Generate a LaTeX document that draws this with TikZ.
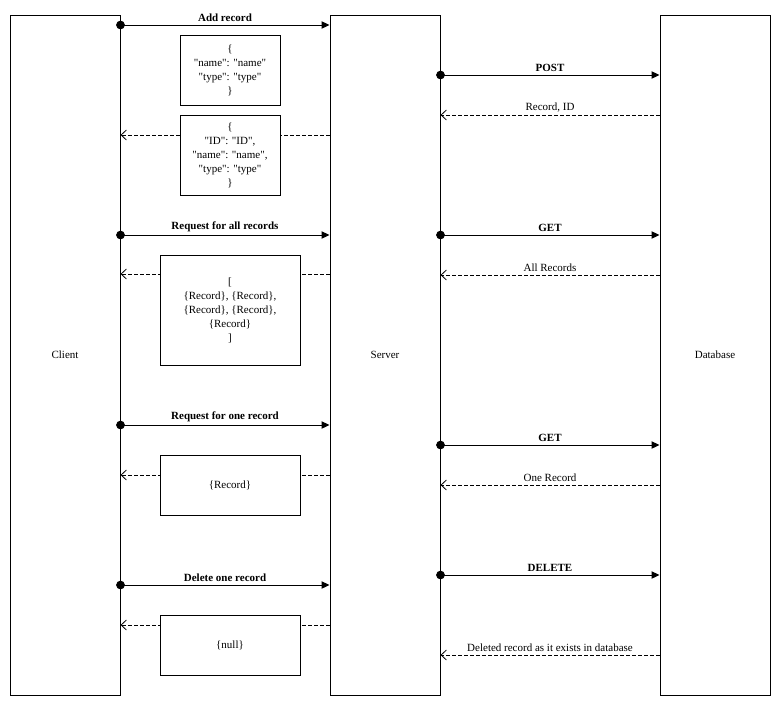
\documentclass[tikz,border=0pt]{standalone}
\usepackage{fontspec}
% plain straight quotes in the JSON payloads
\setmainfont{Liberation Serif}[Ligatures=TeXOff]
\usetikzlibrary{arrows.meta}

\begin{document}
\begin{tikzpicture}[x=0.75pt,y=-0.75pt,
  font=\fontsize{8.25pt}{10.5pt}\selectfont,
  lane/.style={draw, line width=0.75pt, minimum width=82.5pt, minimum height=510pt, inner sep=0pt},
  msgbox/.style={draw, fill=white, line width=0.75pt, align=center, inner sep=0pt},
  call/.style={line width=0.75pt, shorten <=-3.25pt, {Circle[length=6.5pt]}-{Triangle[length=6pt,width=5.5pt]}},
  reply/.style={line width=0.6pt, dash pattern=on 2.5pt off 2pt, -{Straight Barb[length=4pt,width=7.5pt]}},
  calltext/.style={above, inner sep=2pt, font=\fontsize{8.25pt}{10pt}\selectfont\bfseries},
  replytext/.style={above, inner sep=2pt}]
\useasboundingbox (0,0) rectangle (781,707);

% lifelines
\node[lane] (client) at (65,355) {Client};
\node[lane] (server) at (385,355) {Server};
\node[lane] (db) at (715,355) {Database};

% client <-> server
\draw[call] (client.east |- 0,25) -- node[calltext] {Add record} (server.west |- 0,25);
\draw[reply] (server.west |- 0,135) -- (client.east |- 0,135);
\draw[call] (client.east |- 0,235) -- node[calltext] {Request for all records} (server.west |- 0,235);
\draw[reply] (server.west |- 0,274) -- (client.east |- 0,274);
\draw[call] (client.east |- 0,425) -- node[calltext] {Request for one record} (server.west |- 0,425);
\draw[reply] (server.west |- 0,475) -- (client.east |- 0,475);
\draw[call] (client.east |- 0,585) -- node[calltext] {Delete one record} (server.west |- 0,585);
\draw[reply] (server.west |- 0,625) -- (client.east |- 0,625);

% server <-> database
\draw[call] (server.east |- 0,75) -- node[calltext] {POST} (db.west |- 0,75);
\draw[reply] (db.west |- 0,115) -- node[replytext] {Record, ID} (server.east |- 0,115);
\draw[call] (server.east |- 0,235) -- node[calltext] {GET} (db.west |- 0,235);
\draw[reply] (db.west |- 0,275) -- node[replytext] {All Records} (server.east |- 0,275);
\draw[call] (server.east |- 0,445) -- node[calltext] {GET} (db.west |- 0,445);
\draw[reply] (db.west |- 0,485) -- node[replytext] {One Record} (server.east |- 0,485);
\draw[call] (server.east |- 0,575) -- node[calltext] {DELETE} (db.west |- 0,575);
\draw[reply] (db.west |- 0,655) -- node[replytext] {Deleted record as it exists in database} (server.east |- 0,655);

% payload boxes
\node[msgbox, minimum width=75pt, minimum height=52.5pt] (req1) at (230,70)
  {\{\\"name": "name"\\"type": "type"\\\}};
\node[msgbox, minimum width=75pt, minimum height=60pt] (res1) at (230,155)
  {\{\\"ID": "ID",\\"name": "name",\\"type": "type"\\\}};
\node[msgbox, minimum width=105pt, minimum height=82.5pt] (res2) at (230,310)
  {[\\\{Record\}, \{Record\},\\\{Record\}, \{Record\},\\\{Record\}\\]};
\node[msgbox, minimum width=105pt, minimum height=45pt] (res3) at (230,485) {\{Record\}};
\node[msgbox, minimum width=105pt, minimum height=45pt] (res4) at (230,645) {\{null\}};
\end{tikzpicture}
\end{document}
